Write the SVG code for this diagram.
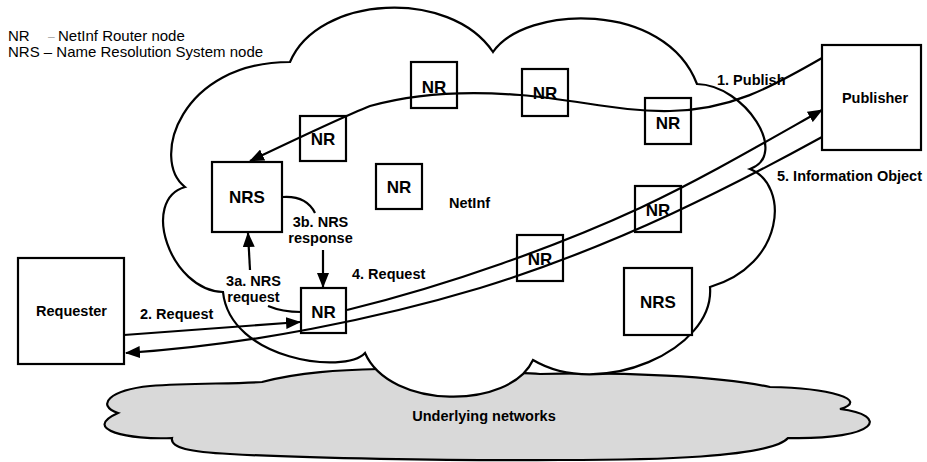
<svg xmlns="http://www.w3.org/2000/svg" width="927" height="462" viewBox="0 0 927 462">
<style>
  .box { fill: #fff; stroke: #000; stroke-width: 2.2; }
  .nd { font-family: "Liberation Sans", Arial, sans-serif; font-weight: bold; font-size: 17px; text-anchor: middle; fill: #000; }
  .lbl { font-family: "Liberation Sans", Arial, sans-serif; font-weight: bold; font-size: 14.5px; fill: #000; }
  .leg { font-family: "Liberation Sans", Arial, sans-serif; font-size: 15px; fill: #000; }
  .con { fill: none; stroke: #000; stroke-width: 2.2; }
  .arr { marker-end: url(#ah); }
  .cloud { stroke: #000; stroke-width: 2.2; stroke-linejoin: miter; }
</style>
<defs>
  <marker id="ah" markerUnits="userSpaceOnUse" markerWidth="15" markerHeight="12" viewBox="0 0 15 12" refX="14" refY="6" orient="auto">
    <path d="M0,0 L15,6 L0,12 z" fill="#000"/>
  </marker>
</defs>
<rect width="927" height="462" fill="#fff"/>

<g id="legend">
  <text class="leg" x="8" y="40.5">NR<tspan x="48" fill="#aaa" font-size="12">–</tspan><tspan x="58" fill="#000">NetInf Router node</tspan></text>
  <text class="leg" x="8" y="56.5">NRS – Name Resolution System node</text>
</g>

<g id="underlying-networks">
  <path class="cloud" fill="#d9d9d9" d="M118,413 C95,405 110,390 150,386 C190,383 230,384 262,382 C300,372 340,370 380,369 C450,368 500,372 540,374 C620,372 720,376 770,387 C830,388 870,400 840,409 C890,415 880,440 788,438 C770,458 650,460 560,460 C450,461 300,458 230,454 C190,452 170,448 172,438 C130,440 80,430 118,413 Z"/>
  <text class="lbl" x="484" y="421" text-anchor="middle">Underlying networks</text>
</g>

<g id="netinf">
  <path class="cloud" fill="#fff" d="M290,62 C318,-5 450,-12 493,52 C525,5 665,0 697,84 C745,85 790,155 750,169 C790,185 785,265 710,287 C715,350 600,400 533,360 C510,410 390,410 365,353 C345,375 230,360 223,292 C170,290 140,200 185,187 C150,160 180,62 290,62 Z"/>
  <text class="lbl" x="449" y="207.5">NetInf</text>
</g>

<g id="requester">
  <rect class="box" x="18" y="258" width="106" height="106"/>
  <text class="lbl" x="71.5" y="316" text-anchor="middle">Requester</text>
</g>
<g id="publisher">
  <rect class="box" x="822" y="45" width="99" height="105"/>
  <text class="lbl" x="875" y="103" text-anchor="middle">Publisher</text>
</g>
<g id="nrs-1">
  <rect class="box" x="212" y="162" width="70" height="70"/>
  <text class="nd" x="247" y="203">NRS</text>
</g>
<g id="nrs-2">
  <rect class="box" x="624" y="268" width="68" height="67"/>
  <text class="nd" x="658" y="308">NRS</text>
</g>
<g id="nr-1">
  <rect class="box" x="300" y="116" width="46" height="45"/>
  <text class="nd" x="323" y="145">NR</text>
</g>
<g id="nr-2">
  <rect class="box" x="411" y="62" width="46" height="46"/>
  <text class="nd" x="434" y="93">NR</text>
</g>
<g id="nr-3">
  <rect class="box" x="522" y="69" width="46" height="47"/>
  <text class="nd" x="545" y="99">NR</text>
</g>
<g id="nr-4">
  <rect class="box" x="645" y="98" width="46" height="46"/>
  <text class="nd" x="668" y="128.5">NR</text>
</g>
<g id="nr-5">
  <rect class="box" x="376" y="164" width="46" height="45"/>
  <text class="nd" x="399" y="193">NR</text>
</g>
<g id="nr-6">
  <rect class="box" x="301" y="288" width="45" height="45"/>
  <text class="nd" x="323.5" y="318">NR</text>
</g>
<g id="nr-7">
  <rect class="box" x="517" y="235" width="46" height="46"/>
  <text class="nd" x="540" y="265">NR</text>
</g>
<g id="nr-8">
  <rect class="box" x="635" y="186" width="46" height="46"/>
  <text class="nd" x="658" y="216">NR</text>
</g>

<g id="connectors">
  <path class="con arr" d="M822,58 C770,88 730,110 670,111 C620,112 580,100 520,95 C470,91 420,92 370,106 C340,118 290,142 250,161"/>
  <path class="con arr" d="M124,335 L300,322"/>
  <path class="con arr" d="M250,270 L248,233"/>
  <path class="con" d="M283,197 C300,196 310,203 315,213"/>
  <path class="con arr" d="M323,250 L323,287"/>
  <path class="con" d="M268,306 C280,311 290,312 301,312"/>
  <path class="con arr" d="M347,310 C450,285 560,245 640,208 C700,180 760,145 822,110"/>
  <path class="con arr" d="M822,137 C740,182 620,245 480,288 C380,318 250,345 126,353"/>
</g>

<g id="labels">
  <text class="lbl" x="717" y="85">1. Publish</text>
  <text class="lbl" x="777" y="181">5. Information Object</text>
  <text class="lbl" x="140" y="319">2. Request</text>
  <text class="lbl" x="352" y="279">4. Request</text>
  <text class="lbl" x="253.5" y="285.5" text-anchor="middle">3a. NRS</text>
  <text class="lbl" x="253.5" y="301.5" text-anchor="middle">request</text>
  <text class="lbl" x="320.5" y="226.5" text-anchor="middle">3b. NRS</text>
  <text class="lbl" x="320.5" y="242.5" text-anchor="middle">response</text>
</g>
</svg>
